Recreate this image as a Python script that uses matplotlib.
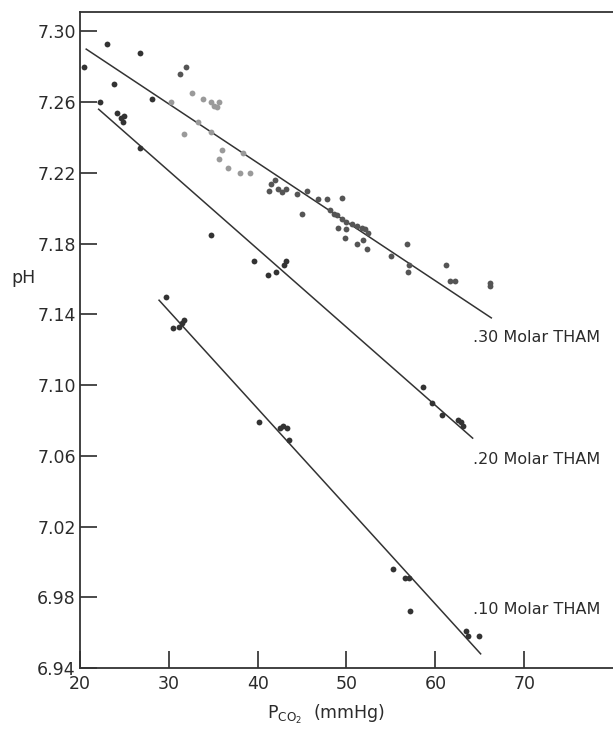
import matplotlib.pyplot as plt

# points (PCO2 mmHg, pH)
dark_x = [20.4, 23.0, 26.7, 23.8, 22.2, 24.2, 24.6, 24.8, 24.9, 26.7, 28.1, 34.7,
          39.6, 41.2, 42.1, 43.0, 43.2, 58.6, 59.6, 60.7, 62.5, 62.9, 63.1,
          29.7, 30.5, 31.1, 31.5, 31.7, 40.1, 42.5, 42.9, 43.3, 43.5,
          55.2, 56.6, 57.0, 57.2, 63.4, 63.7, 64.9]
dark_y = [7.280, 7.293, 7.288, 7.270, 7.260, 7.254, 7.251, 7.249, 7.252, 7.234, 7.262, 7.185,
          7.170, 7.162, 7.164, 7.168, 7.170, 7.099, 7.090, 7.083, 7.080, 7.079, 7.077,
          7.150, 7.132, 7.133, 7.135, 7.137, 7.079, 7.076, 7.077, 7.076, 7.069,
          6.996, 6.991, 6.991, 6.972, 6.961, 6.958, 6.958]

light_x = [30.2, 31.7, 32.6, 33.3, 33.8, 34.8, 35.1, 35.4, 35.7, 34.8, 36.0, 35.7,
           36.7, 38.0, 39.1, 38.3]
light_y = [7.260, 7.242, 7.265, 7.249, 7.262, 7.260, 7.258, 7.257, 7.260, 7.243, 7.233, 7.228,
           7.223, 7.220, 7.220, 7.231]

mid_x = [31.3, 31.9, 41.3, 41.5, 41.9, 42.3, 42.7, 43.2, 44.4, 45.0, 45.6, 46.8, 47.8, 49.5,
         48.1, 48.6, 48.9, 49.5, 50.0, 50.6, 51.2, 51.7, 52.1, 52.4, 49.0, 49.9, 49.8,
         51.2, 51.9, 52.3, 55.0, 56.8, 57.0, 56.9, 61.2, 61.6, 62.2, 66.2, 66.2]
mid_y = [7.276, 7.280, 7.210, 7.214, 7.216, 7.211, 7.209, 7.211, 7.208, 7.197, 7.210, 7.205, 7.205, 7.206,
         7.199, 7.197, 7.196, 7.194, 7.192, 7.191, 7.190, 7.189, 7.188, 7.186, 7.189, 7.188, 7.183,
         7.180, 7.182, 7.177, 7.173, 7.180, 7.168, 7.164, 7.168, 7.159, 7.159, 7.158, 7.156]

# fitted lines, one per THAM concentration
fits = {
    ".30 Molar THAM": ([20.7, 66.3], [7.290, 7.138], (64.2, 7.127)),
    ".20 Molar THAM": ([22.1, 64.2], [7.256, 7.070], (64.2, 7.058)),
    ".10 Molar THAM": ([28.9, 65.1], [7.148, 6.948], (64.2, 6.973)),
}

yticks = [6.94, 6.98, 7.02, 7.06, 7.10, 7.14, 7.18, 7.22, 7.26, 7.30]
ytick_labels = ["6.94", "6.98", "7.02", "7.06", "7.10", "7.14", "7.18", "7.22", "7.26", "7.30"]
xticks = [20, 30, 40, 50, 60, 70]

ink = "#2b2b2b"
fig = plt.figure(figsize=(6.13, 7.31), dpi=100)
ax = fig.add_axes([0.1305, 0.0862, 0.8695, 0.8974])

for name, (lx, ly, pos) in fits.items():
    ax.plot(lx, ly, color="#333333", lw=1.1)
    ax.text(pos[0], pos[1], name, fontsize=11.5, color=ink, va="center", ha="left")

ax.plot(light_x, light_y, "o", color="#9a9a9a", ms=4.2, mew=0)
ax.plot(mid_x, mid_y, "o", color="#555555", ms=4.2, mew=0)
ax.plot(dark_x, dark_y, "o", color="#333333", ms=4.2, mew=0)

ax.set_xlim(20, 80)
ax.set_ylim(6.94, 7.311)
ax.set_xticks(xticks)
ax.set_yticks(yticks)
ax.set_yticklabels(ytick_labels)
ax.tick_params(direction="in", length=12, width=1.2, colors=ink, labelsize=12.5, pad=3)
ax.tick_params(axis="x", pad=5)
ax.spines["right"].set_visible(False)
for s in ["left", "bottom", "top"]:
    ax.spines[s].set_color("#333333")
    ax.spines[s].set_linewidth(1.3)

fig.text(24 / 613, 1 - 278 / 731, "pH", fontsize=12.5, color=ink, ha="center", va="center")
fig.text(326 / 613, 1 - 714 / 731, r"P$_{\mathregular{CO_2}}$  (mmHg)", fontsize=12.5,
         color=ink, ha="center", va="center")

fig.savefig("out.png", dpi=100)
